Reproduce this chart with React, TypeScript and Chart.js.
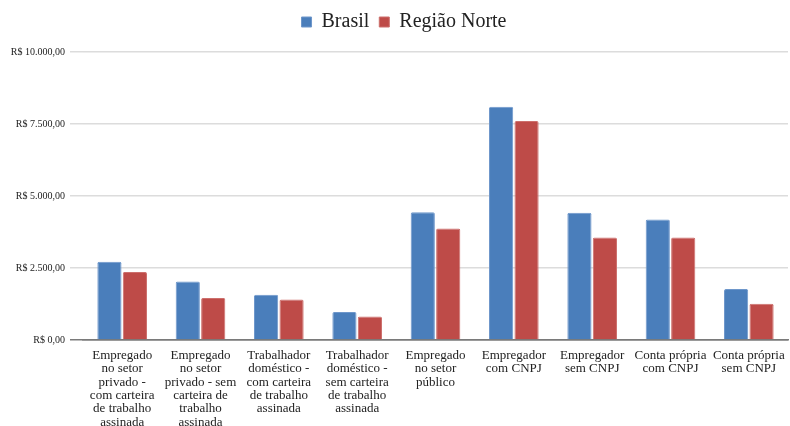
import React, { useEffect, useRef } from "react";
import { Chart, registerables } from "chart.js";

Chart.register(...registerables);

const categories: string[][] = [
  ["Empregado", "no setor", "privado -", "com carteira", "de trabalho", "assinada"],
  ["Empregado", "no setor", "privado - sem", "carteira de", "trabalho", "assinada"],
  ["Trabalhador", "doméstico -", "com carteira", "de trabalho", "assinada"],
  ["Trabalhador", "doméstico -", "sem carteira", "de trabalho", "assinada"],
  ["Empregado", "no setor", "público"],
  ["Empregador", "com CNPJ"],
  ["Empregador", "sem CNPJ"],
  ["Conta própria", "com CNPJ"],
  ["Conta própria", "sem CNPJ"],
];

const brasil: number[] = [2720, 2030, 1575, 970, 4440, 8100, 4420, 4180, 1770];
const regiaoNorte: number[] = [2365, 1460, 1405, 820, 3870, 7600, 3560, 3560, 1255];

const yTicks: number[] = [0, 2500, 5000, 7500, 10000];

const SERIF = "'Liberation Serif', 'Times New Roman', serif";

function formatBRL(v: number): string {
  const fixed = v.toFixed(2);
  const [int, dec] = fixed.split(".");
  const withDots = int.replace(/\B(?=(\d{3})+(?!\d))/g, ".");
  return "R$ " + withDots + "," + dec;
}

const legendShift = {
  id: "legendShift",
  afterLayout(chart: any) {
    const lg = chart.legend;
    if (lg) {
      lg.left += 10;
      lg.right += 10;
      lg.top += 2;
      lg.bottom += 2;
    }
  },
};

export default function App() {
  const ref = useRef<HTMLCanvasElement | null>(null);

  useEffect(() => {
    if (!ref.current) return;
    const chart = new Chart(ref.current, {
      type: "bar",
      data: {
        labels: categories,
        datasets: [
          {
            label: "Brasil",
            data: brasil,
            backgroundColor: "#4a7ebb",
            borderColor: "#6e97cb",
            borderWidth: 1,
            borderRadius: 1.5,
            categoryPercentage: 0.65,
            barPercentage: 0.95,
          },
          {
            label: "Região Norte",
            data: regiaoNorte,
            backgroundColor: "#be4b48",
            borderColor: "#cd6f6c",
            borderWidth: 1,
            borderRadius: 1.5,
            categoryPercentage: 0.65,
            barPercentage: 0.95,
          },
        ],
      },
      plugins: [legendShift],
      options: {
        animation: false,
        responsive: false,
        maintainAspectRatio: false,
        layout: { padding: { left: 0, right: 2, top: 0, bottom: 0 } },
        plugins: {
          tooltip: { enabled: false },
          legend: {
            position: "top",
            align: "center",
            labels: {
              font: { family: SERIF, size: 20 },
              color: "#222",
              boxWidth: 10,
              boxHeight: 10,
              padding: 10,
            },
          },
          subtitle: {
            display: true,
            text: "",
            position: "top",
            weight: 500,
            padding: 0,
            font: { size: 10, lineHeight: 1.2 },
          },
        },
        scales: {
          x: {
            grid: { display: false },
            border: { display: true, color: "#7a7a7a", width: 1.5 },
            ticks: {
              font: { family: SERIF, size: 13, lineHeight: 1.025 },
              color: "#222",
              maxRotation: 0,
              autoSkip: false,
              padding: 1,
            },
            afterFit: (scale: any) => {
              scale.height = 86;
            },
          },
          y: {
            min: 0,
            max: 10000,
            afterBuildTicks: (scale: any) => {
              scale.ticks = yTicks.map((v) => ({ value: v }));
            },
            grid: {
              color: (ctx: any) => (ctx.tick && ctx.tick.value === 0 ? "#7a7a7a" : "#dcdcdc"),
              lineWidth: 1.5,
              tickLength: 13,
              drawTicks: true,
            },
            border: { display: false },
            ticks: {
              font: { family: SERIF, size: 10 },
              color: "#222",
              padding: 5,
              callback: (v: any) => formatBRL(Number(v)),
            },
            afterFit: (scale: any) => {
              scale.width = 83;
            },
          },
        },
      },
    });
    return () => chart.destroy();
  }, []);

  return (
    <div style={{ position: "absolute", left: 0, top: 0, width: 790, height: 426, background: "#fff" }}>
      <canvas ref={ref} width={790} height={426} />
    </div>
  );
}
